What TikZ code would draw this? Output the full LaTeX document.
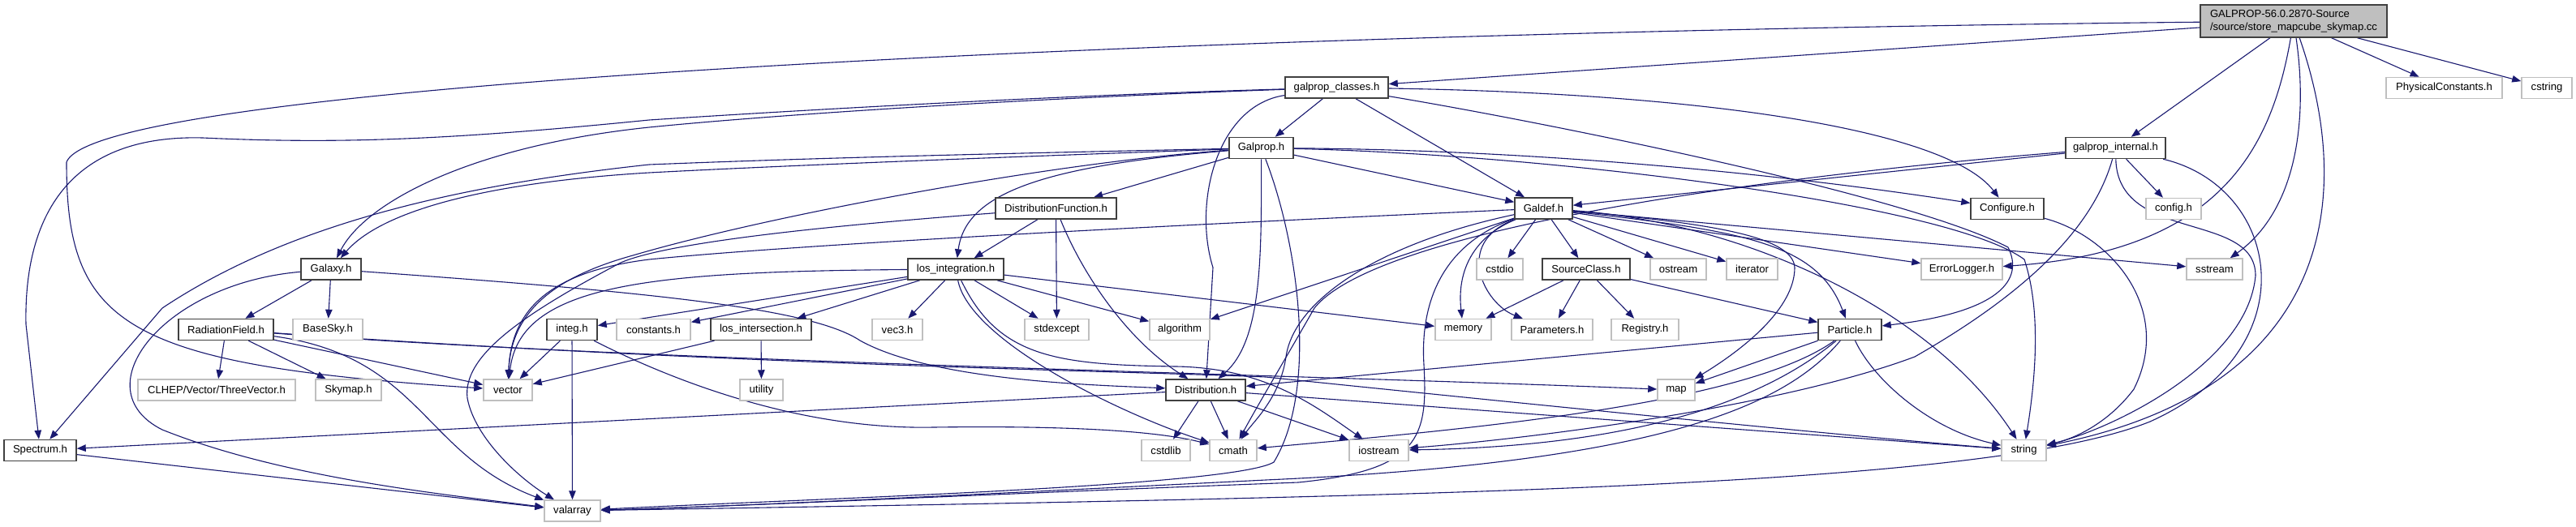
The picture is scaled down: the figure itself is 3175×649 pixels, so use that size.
\documentclass[tikz,border=0pt]{standalone}
\usepackage{fontspec}
\setmainfont{Liberation Sans}
\usetikzlibrary{arrows.meta}
\definecolor{edgec}{RGB}{25,25,112}
\definecolor{bordk}{RGB}{64,64,64}
\definecolor{bordg}{RGB}{191,191,191}
\definecolor{rootfill}{RGB}{191,191,191}
\pgfdeclarelayer{bg}
\pgfsetlayers{bg,main}
\begin{document}
\begin{tikzpicture}[x=1pt,y=1pt,
  e/.style={draw=edgec, line width=1.1pt, -{Triangle[length=11pt,width=8.5pt]}},
  nd/.style={draw=bordk, line width=1.5pt, fill=white, minimum height=26pt, inner sep=0pt, font=\fontsize{13.1}{15}\selectfont},
  ex/.style={draw=bordg, line width=1.5pt, fill=white, minimum height=26pt, inner sep=0pt, font=\fontsize{13.1}{15}\selectfont},
  rootn/.style={draw=bordk, line width=1.5pt, fill=rootfill, minimum height=40pt, inner sep=0pt, align=left, font=\fontsize{13.1}{16}\selectfont}]
\useasboundingbox (0,0) rectangle (3175,-649);

% row 1-2
\node[rootn, minimum width=230pt] (root) at (2827,-26) {GALPROP-56.0.2870-Source\\/source/store\_mapcube\_skymap.cc};
\node[nd, minimum width=127pt] (gpc) at (1647.5,-108) {galprop\_classes.h};
\node[ex, minimum width=143pt] (PC) at (3012.5,-108.5) {PhysicalConstants.h};
\node[ex, minimum width=62pt] (cstr) at (3139,-108.5) {cstring};
% row 3
\node[nd, minimum width=79pt] (gp) at (1554.5,-182.5) {Galprop.h};
\node[nd, minimum width=123pt] (gi) at (2607.5,-182.5) {galprop\_internal.h};
% row 4
\node[nd, minimum width=149pt] (DF) at (1301.5,-257) {DistributionFunction.h};
\node[nd, minimum width=71pt] (gd) at (1902.5,-257) {Galdef.h};
\node[nd, minimum width=90pt] (Conf) at (2474,-257.5) {Configure.h};
\node[ex, minimum width=68pt] (confh) at (2679,-257.5) {config.h};
% row 5
\node[nd, minimum width=74pt] (gx) at (408,-332) {Galaxy.h};
\node[nd, minimum width=118pt] (los) at (1178,-332) {los\_integration.h};
\node[ex, minimum width=57pt] (cstdio) at (1848.5,-332) {cstdio};
\node[nd, minimum width=108pt] (SC) at (1955,-332) {SourceClass.h};
\node[ex, minimum width=69pt] (ostr) at (2068.5,-332) {ostream};
\node[ex, minimum width=63pt] (iter) at (2159.5,-332) {iterator};
\node[ex, minimum width=100pt] (EL) at (2418,-332) {ErrorLogger.h};
\node[ex, minimum width=69pt] (sstr) at (2729.5,-332) {sstream};
% row 6
\node[nd, minimum width=117pt] (RF) at (278.5,-406.5) {RadiationField.h};
\node[ex, minimum width=86pt] (bs) at (404,-406.5) {BaseSky.h};
\node[nd, minimum width=62pt] (integ) at (705,-406.5) {integ.h};
\node[ex, minimum width=91pt] (consts) at (805.5,-406.5) {constants.h};
\node[nd, minimum width=124pt] (losx) at (938,-406.5) {los\_intersection.h};
\node[ex, minimum width=62pt] (vec3) at (1106,-406.5) {vec3.h};
\node[ex, minimum width=79pt] (stdexc) at (1302.5,-406.5) {stdexcept};
\node[ex, minimum width=74pt] (algo) at (1454,-406.5) {algorithm};
\node[ex, minimum width=69pt] (mem) at (1803.5,-406.5) {memory};
\node[ex, minimum width=100pt] (Params) at (1913,-406.5) {Parameters.h};
\node[ex, minimum width=83pt] (Reg) at (2027.5,-406.5) {Registry.h};
\node[nd, minimum width=78pt] (Part) at (2280,-406.5) {Particle.h};
% row 7
\node[ex, minimum width=194pt] (CLHEP) at (267,-481) {CLHEP/Vector/ThreeVector.h};
\node[ex, minimum width=81pt] (Skymap) at (429.5,-481) {Skymap.h};
\node[ex, minimum width=60pt] (vec) at (626,-481) {vector};
\node[ex, minimum width=53pt] (util) at (938.5,-481) {utility};
\node[nd, minimum width=98pt] (Dist) at (1486,-481) {Distribution.h};
\node[ex, minimum width=46pt] (map) at (2066,-481) {map};
% row 8
\node[nd, minimum width=89pt] (Spec) at (49.5,-555.5) {Spectrum.h};
\node[ex, minimum width=60pt] (cstdlib) at (1437,-555.5) {cstdlib};
\node[ex, minimum width=58pt] (cmath) at (1520,-555.5) {cmath};
\node[ex, minimum width=73pt] (iostr) at (1699.5,-555.5) {iostream};
\node[ex, minimum width=55pt] (str) at (2494.5,-555.5) {string};
% row 9
\node[ex, minimum width=69pt] (valarr) at (705.5,-630) {valarray};

\begin{pgfonlayer}{bg}
\fill[white] (0,0) rectangle (3175,-649);
% root
\draw[e] (root) -- (gpc);
\draw[e] (root) -- (gi);
\draw[e] (root) -- (PC);
\draw[e] (root) -- (cstr);
\draw[e] (root) .. controls (2800,-180) and (2740,-310) .. (EL);
\draw[e] (root) .. controls (2845,-150) and (2830,-260) .. (sstr);
\draw[e] (root) .. controls (2905,-250) and (2870,-480) .. (str);
\draw[e] (root) .. controls (1500,-40) and (120,-100) .. (82,-200) .. controls (82,-400) and (150,-450) .. (vec);
% galprop_classes
\draw[e] (gpc) -- (gp);
\draw[e] (gpc) -- (gd);
\draw[e] (gpc) .. controls (1300,-118) and (1000,-135) .. (800,-148) .. controls (560,-172) and (420,-178) .. (250,-170) .. controls (60,-165) and (30,-300) .. (32,-400) -- (Spec);
\draw[e] (gpc) .. controls (1250,-122) and (950,-142) .. (800,-157) .. controls (580,-180) and (450,-250) .. (gx);
\draw[e] (gpc) .. controls (2100,-115) and (2400,-160) .. (Conf);
\draw[e] (gpc) .. controls (1500,-130) and (1470,-250) .. (1495,-330) -- (Dist);
\draw[e] (gpc) .. controls (1900,-150) and (2350,-240) .. (2475,-305) .. controls (2495,-345) and (2465,-385) .. (Part);
% Galprop
\draw[e] (gp) -- (gd);
\draw[e] (gp) .. controls (1200,-195) and (950,-205) .. (800,-213) .. controls (600,-225) and (470,-260) .. (gx);
\draw[e] (gp) .. controls (1200,-190) and (1000,-195) .. (800,-203) .. controls (550,-230) and (350,-280) .. (200,-380) -- (Spec);
\draw[e] (gp) -- (DF);
\draw[e] (gp) .. controls (1280,-205) and (1190,-240) .. (los);
\draw[e] (gp) .. controls (1300,-200) and (950,-265) .. (780,-315) .. controls (690,-340) and (630,-380) .. (vec);
\draw[e] (gp) .. controls (1555,-320) and (1555,-420) .. (Dist);
\draw[e] (gp) .. controls (1600,-300) and (1625,-480) .. (1570,-570) .. controls (1520,-600) and (1000,-615) .. (valarr);
\draw[e] (gp) .. controls (1900,-185) and (2200,-215) .. (Conf);
\draw[e] (gp) .. controls (1900,-190) and (2400,-250) .. (2495,-320) .. controls (2515,-380) and (2510,-460) .. (str);
% galprop_internal
\draw[e] (gi) -- (gd);
\draw[e] (gi) -- (confh);
\draw[e] (gi) .. controls (2200,-215) and (1700,-280) .. (1620,-380) .. controls (1580,-450) and (1550,-500) .. (cmath);
\draw[e] (gi) .. controls (2580,-280) and (2500,-360) .. (2360,-440) .. controls (2200,-500) and (1900,-540) .. (iostr);
\draw[e] (gi) .. controls (2610,-300) and (2780,-260) .. (2780,-340) .. controls (2770,-450) and (2600,-530) .. (str);
\draw[e] (gi) .. controls (2810,-230) and (2850,-430) .. (2650,-520) .. controls (2450,-600) and (1800,-612) .. (valarr);
% Configure
\draw[e] (Conf) .. controls (2600,-290) and (2680,-380) .. (2630,-480) .. controls (2600,-520) and (2560,-540) .. (str);
% Galdef
\draw[e] (gd) -- (cstdio);
\draw[e] (gd) -- (SC);
\draw[e] (gd) -- (ostr);
\draw[e] (gd) -- (iter);
\draw[e] (gd) -- (EL);
\draw[e] (gd) -- (sstr);
\draw[e] (gd) .. controls (2100,-275) and (2210,-290) .. (2212,-330) .. controls (2212,-380) and (2150,-430) .. (map);
\draw[e] (gd) .. controls (2150,-285) and (2240,-300) .. (Part);
\draw[e] (gd) .. controls (2150,-275) and (2380,-380) .. (str);
\draw[e] (gd) .. controls (1820,-290) and (1795,-330) .. (mem);
\draw[e] (gd) .. controls (1790,-300) and (1830,-375) .. (Params);
\draw[e] (gd) -- (algo);
\draw[e] (gd) .. controls (1500,-275) and (1000,-300) .. (800,-320) .. controls (680,-335) and (630,-380) .. (vec);
\draw[e] (gd) .. controls (1700,-300) and (1595,-370) .. (1585,-440) .. controls (1578,-490) and (1545,-520) .. (cmath);
\draw[e] (gd) .. controls (1780,-300) and (1750,-370) .. (1755,-450) .. controls (1760,-540) and (1750,-580) .. (1600,-595) .. controls (1200,-610) and (900,-625) .. (valarr);
% SourceClass
\draw[e] (SC) -- (mem);
\draw[e] (SC) -- (Params);
\draw[e] (SC) -- (Reg);
\draw[e] (SC) -- (Part);
% Particle
\draw[e] (Part) -- (Dist);
\draw[e] (Part) -- (map);
\draw[e] (Part) .. controls (2190,-480) and (2050,-550) .. (iostr);
\draw[e] (Part) .. controls (2150,-500) and (1800,-530) .. (cmath);
\draw[e] (Part) .. controls (2200,-500) and (2050,-570) .. (1560,-592) .. controls (1200,-610) and (900,-625) .. (valarr);
\draw[e] (Part) .. controls (2310,-470) and (2380,-530) .. (str);
% Distribution
\draw[e] (Dist) -- (Spec);
\draw[e] (Dist) -- (cstdlib);
\draw[e] (Dist) -- (cmath);
\draw[e] (Dist) -- (iostr);
\draw[e] (Dist) -- (str);
% RadiationField
\draw[e] (RF) -- (CLHEP);
\draw[e] (RF) -- (Skymap);
\draw[e] (RF) -- (vec);
\draw[e] (RF) .. controls (520,-440) and (520,-560) .. (valarr);
\draw[e] (RF) .. controls (800,-446) and (1600,-462) .. (map);
\draw[e] (RF) .. controls (900,-450) and (1400,-458) .. (1560,-465) .. controls (1900,-500) and (2300,-540) .. (str);
% Galaxy
\draw[e] (gx) -- (RF);
\draw[e] (gx) -- (bs);
\draw[e] (gx) .. controls (200,-350) and (100,-480) .. (200,-530) .. controls (350,-590) and (550,-610) .. (valarr);
\draw[e] (gx) .. controls (800,-360) and (1000,-380) .. (1060,-420) .. controls (1150,-470) and (1350,-475) .. (Dist);
% Spectrum
\draw[e] (Spec) -- (valarr);
% integ
\draw[e] (integ) -- (vec);
\draw[e] (integ) -- (valarr);
\draw[e] (integ) .. controls (850,-480) and (1000,-530) .. (1150,-527) .. controls (1300,-525) and (1420,-530) .. (cmath);
% los_intersection
\draw[e] (losx) -- (vec);
\draw[e] (losx) -- (util);
% los_integration
\draw[e] (los) -- (integ);
\draw[e] (los) -- (consts);
\draw[e] (los) -- (losx);
\draw[e] (los) -- (vec3);
\draw[e] (los) -- (stdexc);
\draw[e] (los) -- (algo);
\draw[e] (los) -- (mem);
\draw[e] (los) .. controls (1195,-420) and (1380,-510) .. (cmath);
\draw[e] (los) .. controls (1230,-440) and (1300,-450) .. (1450,-452) .. controls (1560,-454) and (1620,-500) .. (iostr);
\draw[e] (los) .. controls (800,-335) and (640,-350) .. (vec);
% DistributionFunction
\draw[e] (DF) -- (los);
\draw[e] (DF) -- (stdexc);
\draw[e] (DF) .. controls (1335,-340) and (1390,-420) .. (Dist);
\draw[e] (DF) .. controls (1000,-280) and (820,-300) .. (765,-324) .. controls (640,-390) and (570,-440) .. (576,-491) .. controls (585,-540) and (640,-590) .. (valarr);
\end{pgfonlayer}
\end{tikzpicture}
\end{document}
